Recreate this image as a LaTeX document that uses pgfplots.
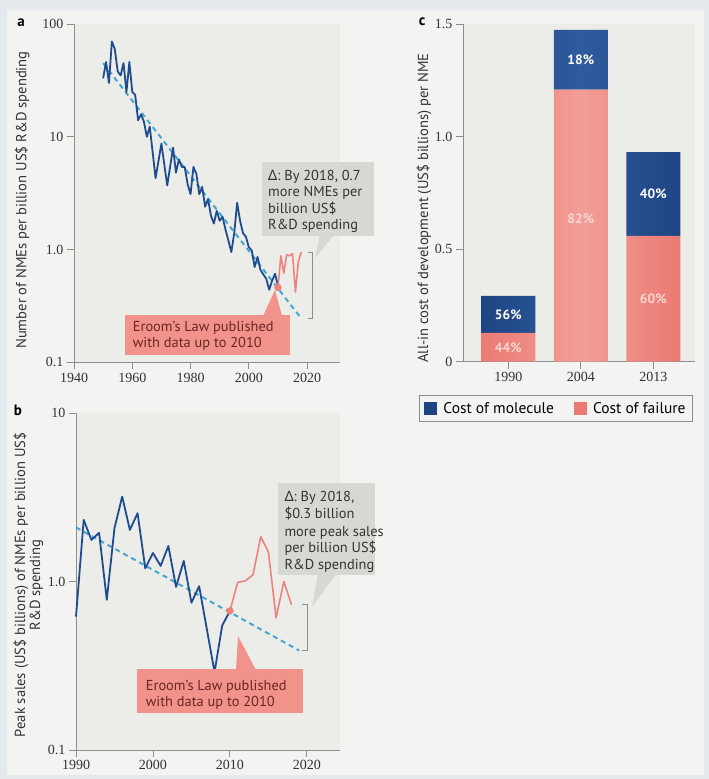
\documentclass[border=0pt]{standalone}
\usepackage{pgfplots}
\pgfplotsset{compat=1.18}
\usepackage{fontspec}
\setmainfont{PT Sans}
\newfontfamily\greekfont{Noto Sans}
\newfontfamily\tickfont{Liberation Serif}

\definecolor{navy}{HTML}{1E4483}
\definecolor{navymid}{HTML}{2E5C9E}
\definecolor{salmon}{HTML}{EB7A73}
\definecolor{salmonmid}{HTML}{F29E97}
\definecolor{seriesblue}{HTML}{1F4C8F}
\definecolor{seriesred}{HTML}{EE827C}
\definecolor{trendblue}{HTML}{45A7D1}
\definecolor{framebg}{HTML}{E3E9EC}
\definecolor{pagebg}{HTML}{F3F3F1}
\definecolor{plotbg}{HTML}{ECECE8}
\definecolor{axisgray}{HTML}{8E8E8E}
\definecolor{boxgray}{HTML}{D8D8D3}
\definecolor{boxred}{HTML}{F1928B}
\definecolor{boxredtext}{HTML}{6B2623}
\definecolor{pinktext}{HTML}{FCD6D2}
\definecolor{labeltext}{HTML}{333333}

\newcommand{\lbl}{\fontsize{14.6}{15}\selectfont}
\newcommand{\note}{\fontsize{14.4}{15}\selectfont}
\newcommand{\pct}{\bfseries\fontsize{13.5}{13.5}\selectfont}

\pgfplotsset{
  panel/.style={
    scale only axis,
    axis x line=bottom, axis y line=left,
    axis line style={axisgray, line width=0.9pt, -},
    every tick/.style={axisgray, line width=0.9pt},
    tick align=outside,
    major tick length=7pt,
    minor tick length=0pt,
    axis background/.style={fill=plotbg},
    tick label style={font=\tickfont\fontsize{14}{14}\selectfont, text=labeltext},
    /pgf/number format/assume math mode=true,
    /pgf/number format/1000 sep={},
    clip=false,
  },
  barframe/.style={
    scale only axis,
    at={(463pt,-361.7pt)}, anchor=south west,
    width=232pt, height=337.7pt,
    xmin=-0.625, xmax=2.575, ymin=0, ymax=1.5,
  },
  trend/.style={trendblue, line width=2pt, dash pattern=on 5pt off 4pt},
  blueline/.style={seriesblue, line width=1.8pt, line join=round},
  redline/.style={seriesred, line width=1.6pt, line join=round},
}

\begin{document}
\begin{tikzpicture}
\useasboundingbox (0,0) rectangle (709pt,-779pt);
\fill[framebg] (0,0) rectangle (709pt,-779pt);
\fill[pagebg] (7pt,-10pt) rectangle (704pt,-775pt);

% ---------- a: NMEs per billion US$ R&D spending ----------
\begin{axis}[panel,
  at={(74pt,-362.3pt)}, anchor=south west,
  width=266pt, height=338.3pt,
  xmin=1940, xmax=2031.3, ymode=log, ymin=0.1, ymax=100,
  xtick={1940,1960,1980,2000,2020},
  ytick={0.1,1,10,100}, yticklabels={0.1,1.0,10,100},
]
\addplot[trend] coordinates {(1950,45) (2018,0.245)};
\addplot[blueline] table {
1950 33
1951 46
1952 30
1953 70
1954 60
1955 38
1956 35
1957 45
1958 25
1959 46
1960 25
1961 23.5
1962 14
1963 15.8
1964 13.6
1965 10
1966 12.3
1968 4.3
1970 8.7
1972 3.7
1974 8.0
1975 4.8
1976 6.3
1977 5.4
1978 5.4
1979 3.8
1980 3.1
1981 5.4
1982 4.7
1983 3.1
1984 3.6
1985 2.4
1986 2.8
1987 2.0
1988 1.7
1989 2.2
1990 1.8
1991 1.95
1992 1.5
1993 1.2
1994 0.95
1995 1.4
1996 2.6
1997 1.8
1998 1.4
1999 1.3
2000 1.05
2001 0.98
2002 0.7
2003 0.86
2004 0.66
2005 0.6
2006 0.55
2007 0.44
2008 0.53
2009 0.61
2010 0.48
};
\addplot[redline] table {
2010 0.46
2011 0.88
2012 0.62
2013 0.90
2014 0.88
2015 0.92
2016 0.42
2017 0.78
2018 0.95
};
\addplot[only marks, mark=*, mark size=3.5pt, seriesred] coordinates {(2010,0.46)};
\draw[axisgray, line width=0.9pt] (axis cs:2020.2,0.95) -- (axis cs:2022,0.95) -- (axis cs:2022,0.245) -- (axis cs:2020.2,0.245);
\end{axis}

% ---------- b: peak sales per billion US$ R&D spending ----------
\begin{axis}[panel,
  at={(76pt,-750pt)}, anchor=south west,
  width=264pt, height=336.7pt,
  xmin=1990, xmax=2024.3, ymode=log, ymin=0.1, ymax=10,
  xtick={1990,2000,2010,2020},
  ytick={0.1,1,10}, yticklabels={0.1,1.0,10},
]
\addplot[trend] coordinates {(1990,2.1) (2019,0.39)};
\addplot[blueline] table {
1990 0.62
1991 2.33
1992 1.77
1993 1.95
1994 0.78
1995 2.08
1996 3.2
1997 2.03
1998 2.55
1999 1.2
2000 1.48
2001 1.24
2002 1.63
2003 0.93
2004 1.33
2005 0.75
2006 0.94
2008 0.29
2009 0.55
2010 0.67
};
\addplot[redline] table {
2010 0.67
2011 0.99
2012 1.01
2013 1.10
2014 1.85
2015 1.50
2016 0.61
2017 1.00
2018 0.73
};
\addplot[only marks, mark=*, mark size=3.5pt, seriesred] coordinates {(2010,0.67)};
\draw[axisgray, line width=0.9pt] (axis cs:2019.4,0.73) -- (axis cs:2020.1,0.73) -- (axis cs:2020.1,0.39) -- (axis cs:2019.4,0.39);
\end{axis}

% ---------- c: all-in cost of development per NME ----------
\begin{axis}[panel, barframe,
  ybar stacked, bar width=54pt,
  xtick={0,1,2}, xticklabels={1990,2004,2013},
  ytick={0,0.5,1,1.5}, yticklabels={0,0.5,1.0,1.5},
  legend columns=2,
  legend style={at={(0.401,-0.1386)}, anchor=center, draw=axisgray,
    line width=0.8pt, fill=pagebg, font=\fontsize{15.5}{15.5}\selectfont,
    inner xsep=5pt, inner ysep=5pt,
    /tikz/every even column/.append style={column sep=18pt}},
]
\addlegendimage{legend image code/.code={\fill[navy, draw=none] (0pt,-6.5pt) rectangle (13pt,6.5pt); \path[draw=none, fill=none] (13pt,0pt) -- (17pt,0pt);}}
\addlegendentry{Cost of molecule}
\addlegendimage{legend image code/.code={\fill[salmon, draw=none] (0pt,-6.5pt) rectangle (13pt,6.5pt); \path[draw=none, fill=none] (13pt,0pt) -- (17pt,0pt);}}
\addlegendentry{Cost of failure}
\addplot[forget plot, draw=none, left color=salmon, right color=salmon, middle color=salmonmid]
  coordinates {(0,0.128) (1,1.208) (2,0.559)};
\addplot[forget plot, draw=none, left color=navy, right color=navy, middle color=navymid]
  coordinates {(0,0.164) (1,0.266) (2,0.372)};
\end{axis}

% share labels on top of the stacked bars
\begin{axis}[barframe, hide axis]
\node[text=white, font=\pct] at (axis cs:0,0.21) {56\%};
\node[text=pinktext, font=\pct] at (axis cs:0,0.064) {44\%};
\node[text=white, font=\pct] at (axis cs:1,1.341) {18\%};
\node[text=pinktext, font=\pct] at (axis cs:1,0.634) {82\%};
\node[text=white, font=\pct] at (axis cs:2,0.745) {40\%};
\node[text=pinktext, font=\pct] at (axis cs:2,0.28) {60\%};
\end{axis}

% ---------- labels and call-outs ----------
\begin{scope}[x=1pt,y=-1pt]
\node[font=\bfseries\fontsize{15}{15}\selectfont] at (21,23) {a};
\node[font=\bfseries\fontsize{15}{15}\selectfont] at (18,410) {b};
\node[font=\bfseries\fontsize{15}{15}\selectfont] at (422,22) {c};

\node[rotate=90, anchor=base, font=\lbl, text=labeltext] at (26.5,200)
  {Number of NMEs per billion US\$ R\&D spending};
\node[rotate=90, anchor=base, align=center, font=\lbl, text=labeltext] at (40,585)
  {Peak sales (US\$ billions) of NMEs per billion US\$\\R\&D spending};
\node[rotate=90, anchor=base, font=\lbl, text=labeltext] at (428,208)
  {All-in cost of development (US\$ billions) per NME};

% grey note, panel a
\fill[boxgray] (262,162) rectangle (374,236);
\fill[boxgray] (320,235) -- (334,235) -- (315,258) -- cycle;
\node[anchor=base west, inner sep=0pt, font=\note, text=labeltext] at (268,180.5) {{\greekfont Δ}: By 2018, 0.7};
\node[anchor=base west, inner sep=0pt, font=\note, text=labeltext] at (268,196.8) {more NMEs per};
\node[anchor=base west, inner sep=0pt, font=\note, text=labeltext] at (268,213) {billion US\$};
\node[anchor=base west, inner sep=0pt, font=\note, text=labeltext] at (268,229.3) {R\&D spending};

% red note, panel a
\fill[boxred] (263,316) -- (282,316) -- (275,290) -- cycle;
\fill[boxred] (125,315) rectangle (290,355);
\node[anchor=base west, inner sep=0pt, font=\note, text=boxredtext] at (132.7,331.7) {Eroom’s Law published};
\node[anchor=base west, inner sep=0pt, font=\note, text=boxredtext] at (132.7,347.3) {with data up to 2010};

% grey note, panel b
\fill[boxgray] (278,483) rectangle (375,575);
\fill[boxgray] (318,574) -- (336,574) -- (312,607) -- cycle;
\node[anchor=base west, inner sep=0pt, font=\note, text=labeltext] at (284.3,501.7) {{\greekfont Δ}: By 2018,};
\node[anchor=base west, inner sep=0pt, font=\note, text=labeltext] at (284.3,518.8) {\$0.3 billion};
\node[anchor=base west, inner sep=0pt, font=\note, text=labeltext] at (284.3,536) {more peak sales};
\node[anchor=base west, inner sep=0pt, font=\note, text=labeltext] at (284.3,552.7) {per billion US\$};
\node[anchor=base west, inner sep=0pt, font=\note, text=labeltext] at (284.3,569.3) {R\&D spending};

% red note, panel b
\fill[boxred] (236,670) -- (256,670) -- (238,636) -- cycle;
\fill[boxred] (137,669) rectangle (303,713);
\node[anchor=base west, inner sep=0pt, font=\note, text=boxredtext] at (145.7,690) {Eroom’s Law published};
\node[anchor=base west, inner sep=0pt, font=\note, text=boxredtext] at (145.7,706) {with data up to 2010};
\end{scope}
\end{tikzpicture}
\end{document}
